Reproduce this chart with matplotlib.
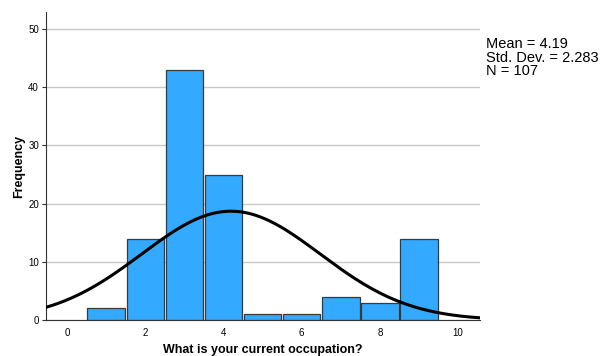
import numpy as np
import matplotlib
matplotlib.use("Agg")
import matplotlib.pyplot as plt

plt.rcParams['font.family'] = ['Liberation Sans', 'DejaVu Sans']

# histogram data (occupation codes and counts)
codes = [1, 2, 3, 4, 5, 6, 7, 8, 9]
counts = [2, 14, 43, 25, 1, 1, 4, 3, 14]
mean = 4.19
std = 2.283
n = 107

fig = plt.figure(figsize=(6.02, 3.56), dpi=100)
ax = fig.add_axes([0.0764, 0.101, 0.721, 0.865])

ax.set_xlim(-0.54, 10.56)
ax.set_ylim(0, 52.9)
ax.set_yticks([0, 10, 20, 30, 40, 50])
ax.set_xticks([0, 2, 4, 6, 8, 10])
ax.yaxis.grid(True, color='#c8c8c8', linewidth=1)
ax.set_axisbelow(True)

ax.bar(codes, counts, width=0.96, color='#33aaff', edgecolor='#3a3a3a',
       linewidth=0.9, zorder=2)

# fitted normal curve
xs = np.linspace(-0.54, 10.56, 300)
ys = n * 1.0 / (std * np.sqrt(2 * np.pi)) * np.exp(-0.5 * ((xs - mean) / std) ** 2)
ax.plot(xs, ys, color='black', linewidth=2.2, zorder=3)

for s in ['top', 'right']:
    ax.spines[s].set_visible(False)
ax.spines['left'].set_color('#333333')
ax.spines['bottom'].set_color('#333333')
ax.tick_params(axis='y', labelsize=7, length=3, color='#333333', pad=2)
ax.tick_params(axis='x', labelsize=7, length=0, pad=6)

ax.set_ylabel('Frequency', fontsize=9, fontweight='bold', labelpad=2)
ax.set_xlabel('What is your current occupation?', fontsize=9, fontweight='bold', labelpad=4)

fig.text(0.807, 0.895, 'Mean = 4.19\nStd. Dev. = 2.283\nN = 107', fontsize=10.5,
         va='top', ha='left', linespacing=0.92)

fig.savefig('out.png', dpi=100)
